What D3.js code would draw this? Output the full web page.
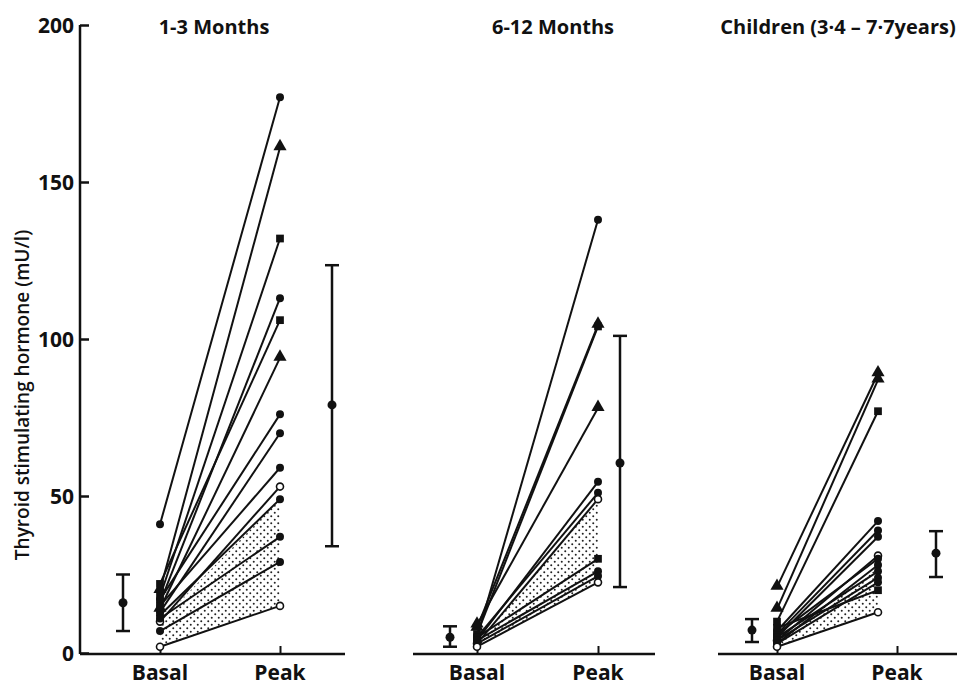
<!DOCTYPE html>
<html>
<head>
<meta charset="utf-8">
<script src="https://cdn.jsdelivr.net/npm/d3@7"></script>
<style>
  body { margin: 0; background: #fff; }
  text { font-family: "Open Sans", sans-serif; font-weight: 700; fill: #111; }
</style>
</head>
<body>
<div id="root"></div>
<script>
const width = 965;
const height = 685;

const titles = ["1-3 Months", "6-12 Months", "Children (3\u00b74 \u2013 7\u00b77years)"];
const groups = ["Basal", "Peak"];
const yTicks = [0, 50, 100, 150, 200];
const yLabel = "Thyroid stimulating hormone (mU/l)";

const basal1 = [41, 20, 18, 16, 22, 14, 17, 13, 15, 10, 12, 11, 7, 2];
const peak1 = [177, 161, 132, 113, 106, 94, 76, 70, 59, 53, 49, 37, 29, 15];
const marker1 = ["dot", "tri", "sq", "dot", "sq", "tri", "dot", "dot", "dot", "open", "dot", "dot", "dot", "open"];
const shadeBasal1 = [2, 10];
const shadePeak1 = [15, 49];
const basalSd1 = [16, 7, 25];
const peakSd1 = [79, 34, 123.5];

const basal2 = [5, 6, 8, 9, 4, 5, 3, 5, 4, 3, 2];
const peak2 = [138, 104, 104.5, 78, 54.5, 51, 49, 30, 26, 24.5, 22.5];
const marker2 = ["dot", "sq", "tri", "tri", "dot", "dot", "open", "sq", "dot", "dot", "open"];
const shadeBasal2 = [2, 3];
const shadePeak2 = [22.5, 49];
const basalSd2 = [5, 2, 8.5];
const peakSd2 = [60.5, 21, 101];

const basal3 = [21, 14, 10, 7, 6, 5, 4, 6, 3, 5, 4, 3, 8, 2];
const peak3 = [89, 87, 77, 42, 39, 37, 31, 30, 28, 26, 24, 22.5, 20, 13];
const marker3 = ["tri", "tri", "sq", "dot", "dot", "dot", "open", "dot", "dot", "dot", "dot", "dot", "sq", "open"];
const shadeBasal3 = [2, 4];
const shadePeak3 = [13, 27];
const basalSd3 = [7.3, 3.5, 10.8];
const peakSd3 = [31.8, 24.2, 38.8];

const panels = [
  { title: titles[0], basal: basal1, peak: peak1, marker: marker1, shadeB: shadeBasal1, shadeP: shadePeak1, sdB: basalSd1, sdP: peakSd1,
    x0: 80, x1: 345, bx: 160, px: 280, shift: 0, ex0: 123, ex1: 332, tx: 214 },
  { title: titles[1], basal: basal2, peak: peak2, marker: marker2, shadeB: shadeBasal2, shadeP: shadePeak2, sdB: basalSd2, sdP: peakSd2,
    x0: 413, x1: 655, bx: 477, px: 598, shift: 0, ex0: 450, ex1: 620, tx: 553 },
  { title: titles[2], basal: basal3, peak: peak3, marker: marker3, shadeB: shadeBasal3, shadeP: shadePeak3, sdB: basalSd3, sdP: peakSd3,
    x0: 718, x1: 957, bx: 777, px: 897, shift: -19, ex0: 752, ex1: 936, tx: 838 }
];

let svg = d3
  .select("#root")
  .append("svg")
  .attr("width", width)
  .attr("height", height);

let defs = svg.append("defs");
let pattern = defs
  .append("pattern")
  .attr("id", "stipple")
  .attr("patternUnits", "userSpaceOnUse")
  .attr("width", 7)
  .attr("height", 7);
pattern.append("circle").attr("cx", 1.75).attr("cy", 1.75).attr("r", 1).attr("fill", "#222");
pattern.append("circle").attr("cx", 5.25).attr("cy", 5.25).attr("r", 1).attr("fill", "#222");

let yScale = d3.scaleLinear().domain([0, 200]).range([653, 25]);

let yAxis = d3.axisRight(yScale).tickValues(yTicks).tickSize(9).tickFormat("");
svg
  .append("g")
  .attr("transform", "translate(80,0)")
  .call(yAxis)
  .call((g) => g.select(".domain").attr("d", "M0,25V654"))
  .selectAll("line, path")
  .attr("stroke", "#111")
  .attr("stroke-width", 2.5);

svg
  .selectAll(".ylab")
  .data(yTicks)
  .enter()
  .append("text")
  .attr("class", "ylab")
  .attr("x", 74)
  .attr("y", (d) => yScale(d) + 8)
  .attr("text-anchor", "end")
  .style("font-size", "21px")
  .text((d) => d);

svg
  .append("text")
  .attr("transform", "rotate(-90)")
  .attr("x", -395)
  .attr("y", 29)
  .attr("text-anchor", "middle")
  .style("font-size", "19px")
  .style("font-weight", 600)
  .text(yLabel);

const symTri = d3.symbol().type(d3.symbolTriangle).size(75);
const symSq = d3.symbol().type(d3.symbolSquare).size(60);

function drawMarker(g, x, y, m) {
  if (m === "tri") {
    g.append("path").attr("d", symTri()).attr("transform", `translate(${x},${y - 1})`).attr("fill", "#111");
  } else if (m === "sq") {
    g.append("path").attr("d", symSq()).attr("transform", `translate(${x},${y})`).attr("fill", "#111");
  } else if (m === "open") {
    g.append("circle").attr("cx", x).attr("cy", y).attr("r", 3.5).attr("fill", "#fff").attr("stroke", "#111").attr("stroke-width", 1.6);
  } else {
    g.append("circle").attr("cx", x).attr("cy", y).attr("r", 4).attr("fill", "#111");
  }
}

panels.forEach((p) => {
  let g = svg.append("g");
  let xScale = d3.scalePoint().domain(groups).range([p.bx, p.px]);
  let xPoint = (grp) => xScale(grp) + (grp === "Peak" ? p.shift : 0);

  g.append("text")
    .attr("x", p.tx)
    .attr("y", 34)
    .attr("text-anchor", "middle")
    .style("font-size", "20px")
    .text(p.title);

  g.append("path")
    .attr(
      "d",
      d3.line()([
        [xPoint("Basal"), yScale(p.shadeB[1])],
        [xPoint("Peak"), yScale(p.shadeP[1])],
        [xPoint("Peak"), yScale(p.shadeP[0])],
        [xPoint("Basal"), yScale(p.shadeB[0])]
      ]) + "Z"
    )
    .attr("fill", "url(#stipple)");

  let xAxis = d3.axisTop(xScale).tickSize(8).tickFormat("");
  g.append("g")
    .attr("transform", "translate(0,654)")
    .call(xAxis)
    .call((a) => a.select(".domain").remove())
    .selectAll("line")
    .attr("stroke", "#111")
    .attr("stroke-width", 2);

  g.append("line")
    .attr("x1", p.x0)
    .attr("x2", p.x1)
    .attr("y1", 654)
    .attr("y2", 654)
    .attr("stroke", "#111")
    .attr("stroke-width", 2.5);

  g.selectAll(".xlab")
    .data(groups)
    .enter()
    .append("text")
    .attr("x", (d) => xScale(d))
    .attr("y", 680)
    .attr("text-anchor", "middle")
    .style("font-size", "21px")
    .text((d) => d);

  g.selectAll(".pair")
    .data(p.basal)
    .enter()
    .append("line")
    .attr("x1", xPoint("Basal"))
    .attr("y1", (d) => yScale(d))
    .attr("x2", xPoint("Peak"))
    .attr("y2", (d, i) => yScale(p.peak[i]))
    .attr("stroke", "#111")
    .attr("stroke-width", 2);

  p.basal.forEach((d, i) => {
    drawMarker(g, xPoint("Basal"), yScale(d), p.marker[i]);
    drawMarker(g, xPoint("Peak"), yScale(p.peak[i]), p.marker[i]);
  });

  [[p.ex0, p.sdB], [p.ex1, p.sdP]].forEach(([ex, sd]) => {
    g.append("line")
      .attr("x1", ex).attr("x2", ex)
      .attr("y1", yScale(sd[1])).attr("y2", yScale(sd[2]))
      .attr("stroke", "#111").attr("stroke-width", 2.5);
    [sd[1], sd[2]].forEach((v) => {
      g.append("line")
        .attr("x1", ex - 7).attr("x2", ex + 7)
        .attr("y1", yScale(v)).attr("y2", yScale(v))
        .attr("stroke", "#111").attr("stroke-width", 2.5);
    });
    g.append("circle").attr("cx", ex).attr("cy", yScale(sd[0])).attr("r", 4.5).attr("fill", "#111");
  });
});
</script>
</body>
</html>
